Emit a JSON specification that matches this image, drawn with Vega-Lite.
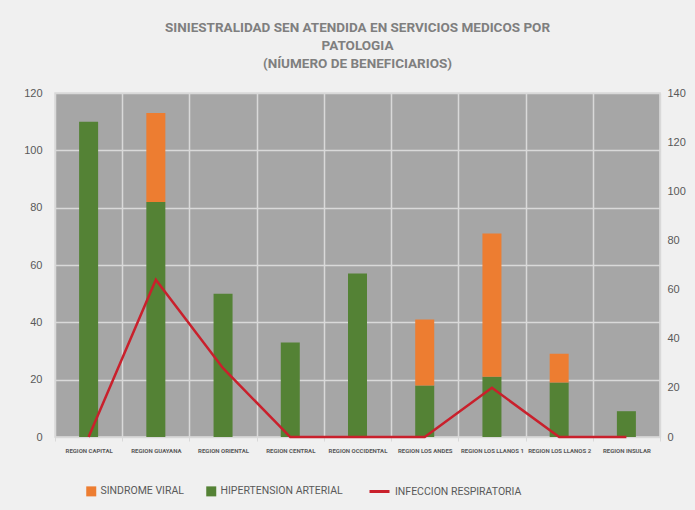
{
  "$schema": "https://vega.github.io/schema/vega-lite/v6.json",
  "width": 605,
  "height": 344,
  "autosize": {"type": "none"},
  "padding": {"left": 55, "top": 93, "right": 35, "bottom": 73},
  "background": "#f0f0f0",
  "config": {
    "view": {"fill": "#a6a6a6", "stroke": "#d9d9d9", "strokeWidth": 1.5},
    "font": "Roboto"
  },
  "title": {
    "text": ["SINIESTRALIDAD SEN  ATENDIDA EN SERVICIOS MEDICOS POR", "PATOLOGIA", "(NÍUMERO DE BENEFICIARIOS)"],
    "fontSize": 13.5,
    "fontWeight": "bold",
    "color": "#7f7f7f",
    "lineHeight": 18,
    "anchor": "middle",
    "frame": "group",
    "offset": 17
  },
  "datasets": {
    "barData": [
      {"region": "REGION CAPITAL", "serie": "HIPERTENSION ARTERIAL", "value": 110},
      {"region": "REGION CAPITAL", "serie": "SINDROME VIRAL", "value": 0},
      {"region": "REGION GUAYANA", "serie": "HIPERTENSION ARTERIAL", "value": 82},
      {"region": "REGION GUAYANA", "serie": "SINDROME VIRAL", "value": 31},
      {"region": "REGION ORIENTAL", "serie": "HIPERTENSION ARTERIAL", "value": 50},
      {"region": "REGION ORIENTAL", "serie": "SINDROME VIRAL", "value": 0},
      {"region": "REGION CENTRAL", "serie": "HIPERTENSION ARTERIAL", "value": 33},
      {"region": "REGION CENTRAL", "serie": "SINDROME VIRAL", "value": 0},
      {"region": "REGION OCCIDENTAL", "serie": "HIPERTENSION ARTERIAL", "value": 57},
      {"region": "REGION OCCIDENTAL", "serie": "SINDROME VIRAL", "value": 0},
      {"region": "REGION LOS ANDES", "serie": "HIPERTENSION ARTERIAL", "value": 18},
      {"region": "REGION LOS ANDES", "serie": "SINDROME VIRAL", "value": 23},
      {"region": "REGION LOS LLANOS 1", "serie": "HIPERTENSION ARTERIAL", "value": 21},
      {"region": "REGION LOS LLANOS 1", "serie": "SINDROME VIRAL", "value": 50},
      {"region": "REGION LOS LLANOS 2", "serie": "HIPERTENSION ARTERIAL", "value": 19},
      {"region": "REGION LOS LLANOS 2", "serie": "SINDROME VIRAL", "value": 10},
      {"region": "REGION INSULAR", "serie": "HIPERTENSION ARTERIAL", "value": 9},
      {"region": "REGION INSULAR", "serie": "SINDROME VIRAL", "value": 0}
    ],
    "lineData": [
      {"region": "REGION CAPITAL", "value": 0},
      {"region": "REGION GUAYANA", "value": 64},
      {"region": "REGION ORIENTAL", "value": 28},
      {"region": "REGION CENTRAL", "value": 0},
      {"region": "REGION OCCIDENTAL", "value": 0},
      {"region": "REGION LOS ANDES", "value": 0},
      {"region": "REGION LOS LLANOS 1", "value": 20},
      {"region": "REGION LOS LLANOS 2", "value": 0},
      {"region": "REGION INSULAR", "value": 0}
    ]
  },
  "layer": [
    {
      "data": {"name": "barData"},
      "mark": {"type": "bar", "size": 19},
      "encoding": {
        "x": {
          "field": "region",
          "type": "nominal",
          "sort": null,
          "scale": {"paddingInner": 0, "paddingOuter": 0},
          "axis": {
            "title": null,
            "labelAngle": 0,
            "labelFontSize": 6,
            "labelFontWeight": "bold",
            "labelColor": "#595959",
            "labelPadding": 6,
            "labelLimit": 0,
            "tickBand": "extent",
            "grid": true,
            "gridColor": "#d9d9d9",
            "gridWidth": 1.5,
            "domainColor": "#d9d9d9",
            "tickColor": "#d9d9d9",
            "tickSize": 4
          }
        },
        "y": {
          "field": "value",
          "type": "quantitative",
          "stack": "zero",
          "scale": {"domain": [0, 120]},
          "axis": {
            "title": null,
            "values": [0, 20, 40, 60, 80, 100, 120],
            "grid": true,
            "gridColor": "#d9d9d9",
            "gridWidth": 1.5,
            "domain": false,
            "ticks": false,
            "labelFontSize": 11,
            "labelColor": "#595959",
            "labelPadding": 13,
            "labelFont": "Liberation Sans"
          }
        },
        "color": {
          "field": "serie",
          "type": "nominal",
          "scale": {"domain": ["SINDROME VIRAL", "HIPERTENSION ARTERIAL"], "range": ["#ed7d31", "#548235"]},
          "legend": {
            "title": null,
            "orient": "none",
            "direction": "horizontal",
            "legendX": 31,
            "legendY": 393,
            "symbolType": "square",
            "symbolSize": 100,
            "symbolStrokeWidth": 0,
            "labelFontSize": 10.5,
            "labelColor": "#595959",
            "columnPadding": 22
          }
        },
        "order": {"field": "serie", "sort": "ascending"}
      }
    },
    {
      "data": {"name": "lineData"},
      "mark": {"type": "line", "strokeWidth": 2.5},
      "encoding": {
        "x": {"field": "region", "type": "nominal", "sort": null},
        "y": {
          "field": "value",
          "type": "quantitative",
          "scale": {"domain": [0, 140]},
          "axis": {
            "title": null,
            "orient": "right",
            "values": [0, 20, 40, 60, 80, 100, 120, 140],
            "grid": false,
            "domain": false,
            "ticks": false,
            "labelFontSize": 11,
            "labelColor": "#595959",
            "labelPadding": 7,
            "labelFont": "Liberation Sans"
          }
        },
        "stroke": {
          "datum": "INFECCION RESPIRATORIA",
          "scale": {"range": ["#c9202c"]},
          "legend": {
            "title": null,
            "orient": "none",
            "legendX": 313,
            "legendY": 387,
            "symbolType": "stroke",
            "symbolSize": 400,
            "symbolStrokeWidth": 3,
            "labelFontSize": 10.5,
            "labelColor": "#595959"
          }
        }
      }
    }
  ],
  "resolve": {"scale": {"y": "independent"}}
}
